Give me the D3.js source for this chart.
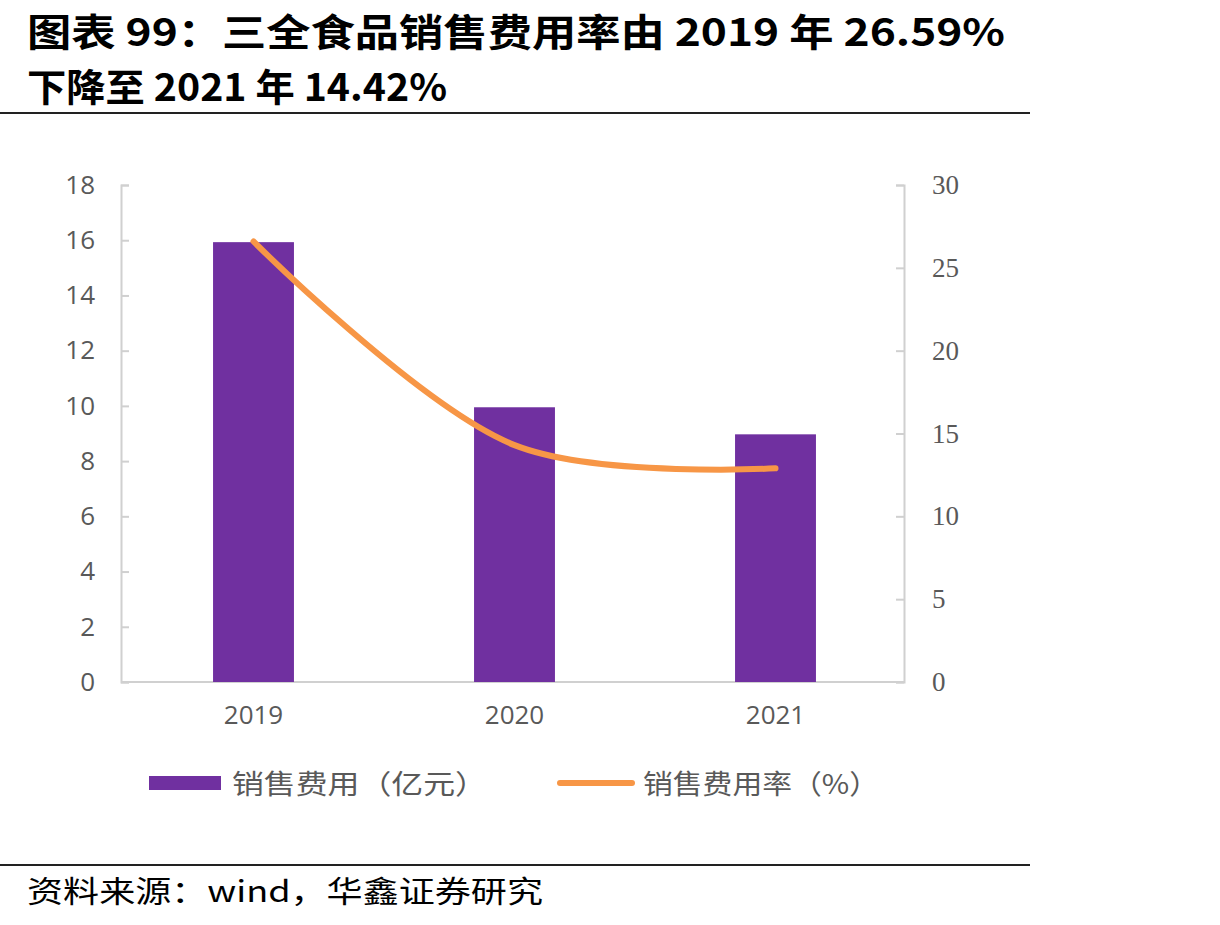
<!DOCTYPE html>
<html>
<head>
<meta charset="utf-8">
<script src="https://cdn.jsdelivr.net/npm/d3@7"></script>
<style>
  body { margin: 0; background: #fff; }
  #chart { width: 1220px; height: 925px; }
</style>
</head>
<body>
<div id="chart"></div>
<script>
// data
const years = ['2019', '2020', '2021'];
const salesExpense = [15.93, 9.95, 8.97];      // 销售费用（亿元）
const salesExpenseRate = [26.59, 14.3, 12.9];   // 销售费用率（%）
const leftTicks = [0, 2, 4, 6, 8, 10, 12, 14, 16, 18];
const rightTicks = [0, 5, 10, 15, 20, 25, 30];
const titleLines = ['图表 99：三全食品销售费用率由 2019 年 26.59%', '下降至 2021 年 14.42%'];
const legendLabels = ['销售费用（亿元）', '销售费用率（%）'];
const sourceText = '资料来源：wind，华鑫证券研究';

const W = 1220, H = 925;
const svg = d3.select('#chart').append('svg')
    .attr('width', W)
    .attr('height', H);

const cjk = '"Noto Sans CJK SC", sans-serif';

// title
svg.selectAll('text.title')
    .data(titleLines)
  .enter().append('text')
    .attr('class', 'title')
    .attr('x', 27)
    .attr('y', (d, i) => 46 + i * 55)
    .attr('textLength', (d, i) => i === 0 ? 978 : 420)
    .attr('lengthAdjust', 'spacingAndGlyphs')
    .style('font-family', cjk)
    .style('font-weight', 700)
    .style('font-size', '38px')
    .style('fill', '#000')
    .text(d => d);

// rules
svg.append('line').attr('x1', 0).attr('x2', 1030).attr('y1', 113).attr('y2', 113)
    .attr('stroke', '#222').attr('stroke-width', 2);
svg.append('line').attr('x1', 0).attr('x2', 1030).attr('y1', 865).attr('y2', 865)
    .attr('stroke', '#222').attr('stroke-width', 2);

svg.append('text')
    .attr('x', 27)
    .attr('y', 902)
    .attr('textLength', 516)
    .attr('lengthAdjust', 'spacingAndGlyphs')
    .style('font-family', cjk)
    .style('font-size', '30px')
    .style('fill', '#000')
    .text(sourceText);

// plot area
const plotLeft = 121, plotRight = 904, plotTop = 185, plotBottom = 682;

const x = d3.scaleBand()
    .domain(years)
    .range([plotLeft + 2, plotRight + 2])
    .padding(0);

const yL = d3.scaleLinear().domain([0, 18]).range([plotBottom, plotTop]);
const yR = d3.scaleLinear().domain([0, 30]).range([plotBottom, plotTop]);

const axisColor = '#d0d0d0';
const labelColor = '#595959';

// left axis
const gL = svg.append('g')
    .attr('transform', `translate(${plotLeft},0)`)
    .call(d3.axisLeft(yL).tickValues(leftTicks).tickSize(-8).tickPadding(26));
gL.selectAll('path').attr('stroke', axisColor).attr('stroke-width', 2);
gL.selectAll('line').attr('stroke', axisColor).attr('stroke-width', 2);
gL.selectAll('text')
    .style('font-family', '"Open Sans", sans-serif')
    .style('font-size', '26px')
    .style('fill', labelColor);

// right axis
const gR = svg.append('g')
    .attr('transform', `translate(${plotRight},0)`)
    .call(d3.axisRight(yR).tickValues(rightTicks).tickSize(-8).tickPadding(28));
gR.selectAll('path').attr('stroke', axisColor).attr('stroke-width', 2);
gR.selectAll('line').attr('stroke', axisColor).attr('stroke-width', 2);
gR.selectAll('text')
    .style('font-family', '"Liberation Serif", serif')
    .style('font-size', '27px')
    .style('fill', labelColor);

// bottom axis
const gB = svg.append('g')
    .attr('transform', `translate(0,${plotBottom})`)
    .call(d3.axisBottom(x).tickSize(0).tickPadding(24));
gB.select('path').attr('d', `M${plotLeft},0H${plotRight}`)
    .attr('stroke', axisColor).attr('stroke-width', 2);
gB.selectAll('text')
    .style('font-family', '"Open Sans", sans-serif')
    .style('font-size', '26px')
    .style('fill', labelColor);

// bars
const barW = x.bandwidth() * 0.31;
svg.selectAll('rect.bar')
    .data(years)
  .enter().append('rect')
    .attr('class', 'bar')
    .attr('x', d => x(d) + x.bandwidth() / 2 - barW / 2)
    .attr('y', (d, i) => yL(salesExpense[i]))
    .attr('width', barW)
    .attr('height', (d, i) => yL(0) - yL(salesExpense[i]))
    .attr('fill', '#7030A0');

// rate line
const line = d3.line()
    .x(d => x(d.year) + x.bandwidth() / 2)
    .y(d => yR(d.v))
    .curve(d3.curveCatmullRom.alpha(0.5));

svg.append('path')
    .datum(years.map((y, i) => ({ year: y, v: salesExpenseRate[i] })))
    .attr('d', line)
    .attr('fill', 'none')
    .attr('stroke', '#F79646')
    .attr('stroke-width', 6)
    .attr('stroke-linecap', 'round');

// legend
const lg = svg.append('g');
lg.append('rect')
    .attr('x', 149).attr('y', 776).attr('width', 72).attr('height', 14)
    .attr('fill', '#7030A0');
lg.append('line')
    .attr('x1', 560).attr('x2', 632).attr('y1', 783).attr('y2', 783)
    .attr('stroke', '#F79646').attr('stroke-width', 6).attr('stroke-linecap', 'round');
lg.selectAll('text')
    .data(legendLabels)
  .enter().append('text')
    .attr('x', (d, i) => i === 0 ? 232 : 643)
    .attr('y', 794)
    .attr('textLength', (d, i) => i === 0 ? 255 : 236)
    .attr('lengthAdjust', 'spacingAndGlyphs')
    .style('font-family', cjk)
    .style('font-size', '27px')
    .style('fill', labelColor)
    .text(d => d);
</script>
</body>
</html>
